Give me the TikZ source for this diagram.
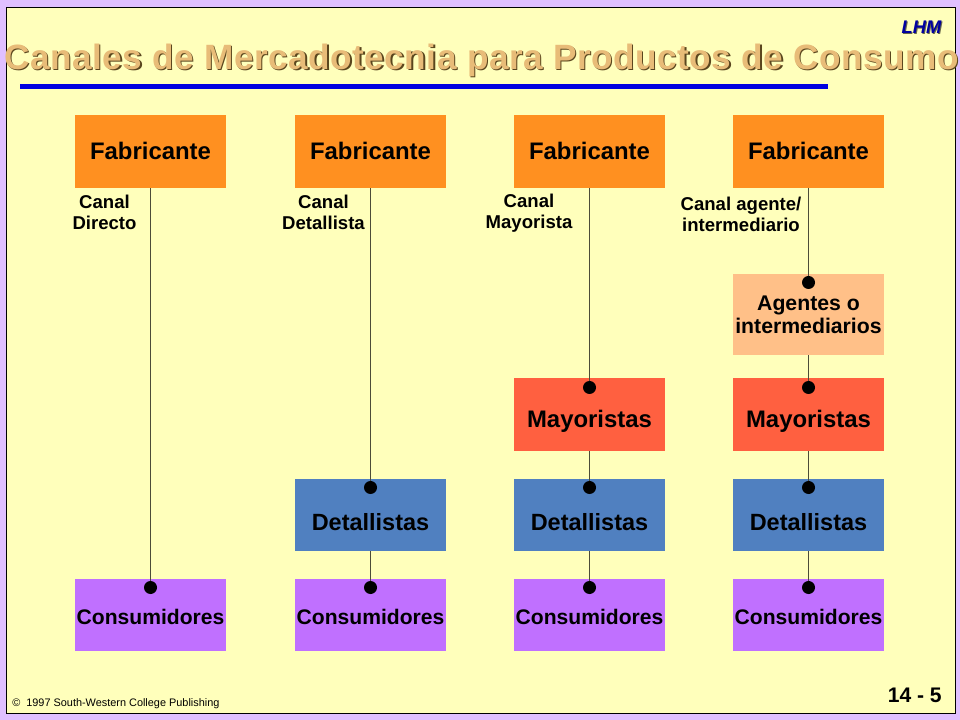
\documentclass[tikz,border=0pt]{standalone}
\usepackage{fontspec}
\setmainfont{Liberation Sans}
\usepackage{xcolor}
\usetikzlibrary{positioning}
\definecolor{slideback}{RGB}{224,192,255}
\definecolor{slidepaper}{RGB}{255,255,187}
\definecolor{titletan}{RGB}{232,188,120}
\definecolor{titleshade}{RGB}{90,70,30}
\definecolor{rulerblue}{RGB}{0,0,224}
\definecolor{lhmblue}{RGB}{0,0,160}
\definecolor{fabcolor}{RGB}{255,144,32}
\definecolor{agecolor}{RGB}{255,192,136}
\definecolor{maycolor}{RGB}{255,96,64}
\definecolor{detcolor}{RGB}{80,128,192}
\definecolor{concolor}{RGB}{192,112,255}
\tikzset{
    chanbox/.style={inner sep=0pt, minimum width=3.775cm},
    fabbox/.style={chanbox, fill=fabcolor, text height=1.125cm, text depth=0.7cm, font=\fontsize{17}{19}\selectfont\bfseries},
    agebox/.style={chanbox, fill=agecolor, minimum height=2.025cm, align=center, font=\fontsize{15.1}{16.4}\selectfont\bfseries},
    maybox/.style={chanbox, fill=maycolor, text height=1.225cm, text depth=0.6cm, font=\fontsize{17}{19}\selectfont\bfseries},
    detbox/.style={chanbox, fill=detcolor, text height=1.275cm, text depth=0.525cm, font=\fontsize{16.7}{18}\selectfont\bfseries},
    conbox/.style={chanbox, fill=concolor, text height=1.125cm, text depth=0.675cm, font=\fontsize{15}{17}\selectfont\bfseries},
    dotmark/.style={circle, fill=black, inner sep=0pt, minimum size=0.325cm},
    chanlabel/.style={align=center, inner sep=0pt, font=\fontsize{13.2}{15}\selectfont\bfseries},
    chanline/.style={draw=black!70!slidepaper, line width=0.7pt},
    titletext/.style={font=\fontsize{25}{28}\selectfont\bfseries}
}
\begin{document}
\begin{tikzpicture}[x=0.025cm, y=-0.025cm]
    \useasboundingbox (0,0) rectangle (960,720);
    % Slide
    \fill[slideback] (0,0) rectangle (960,720);
    \draw[black, fill=slidepaper, line width=0.7pt] (6.5,7.5) rectangle (955,713);

    % Title
    \node[titletext, text=titleshade] (titleshadow) at (483,61.5) {\addfontfeature{LetterSpace=1.5}Canales de Mercadotecnia para Productos de Consumo};
    \node[titletext, text=titletan] (title) at (481.5,60) {\addfontfeature{LetterSpace=1.5}Canales de Mercadotecnia para Productos de Consumo};
    \fill[rulerblue] (20,84) rectangle (828,89);
    \node[text=slidepaper!40!black, font=\fontsize{13}{15}\selectfont\bfseries\itshape] (lhmshadow) at (922.5,28.5) {LHM};
    \node[text=lhmblue, font=\fontsize{13}{15}\selectfont\bfseries\itshape] (lhm) at (921.5,27.5) {LHM};

    % Fabricante and Consumidores
    \foreach \i/\x in {1/150.5, 2/370.5, 3/589.5, 4/808.5} {
        \node[fabbox] (fab\i) at (\x,151.5) {Fabricante};
        \node[conbox] (con\i) at (\x,615) {Consumidores};
    }

    % Detallistas
    \foreach \i/\x in {2/370.5, 3/589.5, 4/808.5} {
        \node[detbox] (det\i) at (\x,515) {Detallistas};
    }

    % Mayoristas
    \foreach \i/\x in {3/589.5, 4/808.5} {
        \node[maybox] (may\i) at (\x,414.5) {Mayoristas};
    }

    % Agentes
    \node[agebox] (age4) at (808.5,314.5) {Agentes o\\intermediarios};

    % Dots
    \foreach \i/\x in {1/150.5, 2/370.5, 3/589.5, 4/808.5} {
        \node[dotmark] (dcon\i) at (\x,587.5) {};
    }
    \foreach \i/\x in {2/370.5, 3/589.5, 4/808.5} {
        \node[dotmark] (ddet\i) at (\x,487.5) {};
    }
    \foreach \i/\x in {3/589.5, 4/808.5} {
        \node[dotmark] (dmay\i) at (\x,387.5) {};
    }
    \node[dotmark] (dage4) at (808.5,282.5) {};

    % Channels
    \draw[chanline] (fab1.south) -- (dcon1);
    \draw[chanline] (fab2.south) -- (ddet2);
    \draw[chanline] (det2.south) -- (dcon2);
    \draw[chanline] (fab3.south) -- (dmay3);
    \draw[chanline] (may3.south) -- (ddet3);
    \draw[chanline] (det3.south) -- (dcon3);
    \draw[chanline] (fab4.south) -- (dage4);
    \draw[chanline] (age4.south) -- (dmay4);
    \draw[chanline] (may4.south) -- (ddet4);
    \draw[chanline] (det4.south) -- (dcon4);

    % Labels
    \node[chanlabel] (lab1) at (104.5,212) {Canal\\Directo};
    \node[chanlabel] (lab2) at (323.5,212) {Canal\\Detallista};
    \node[chanlabel] (lab3) at (529,213.5) {Canal\\Mayorista};
    \node[chanlabel] (lab4) at (741,214) {Canal agente/\\intermediario};

    % Footer
    \node[font=\fontsize{7.75}{9}\selectfont, anchor=west, inner sep=0pt] (copy) at (12,703.5) {©\ \ 1997 South-Western College Publishing};
    \node[font=\fontsize{15}{17}\selectfont\bfseries, anchor=east, inner sep=0pt] (page) at (942,695) {14 - 5};
\end{tikzpicture}
\end{document}
